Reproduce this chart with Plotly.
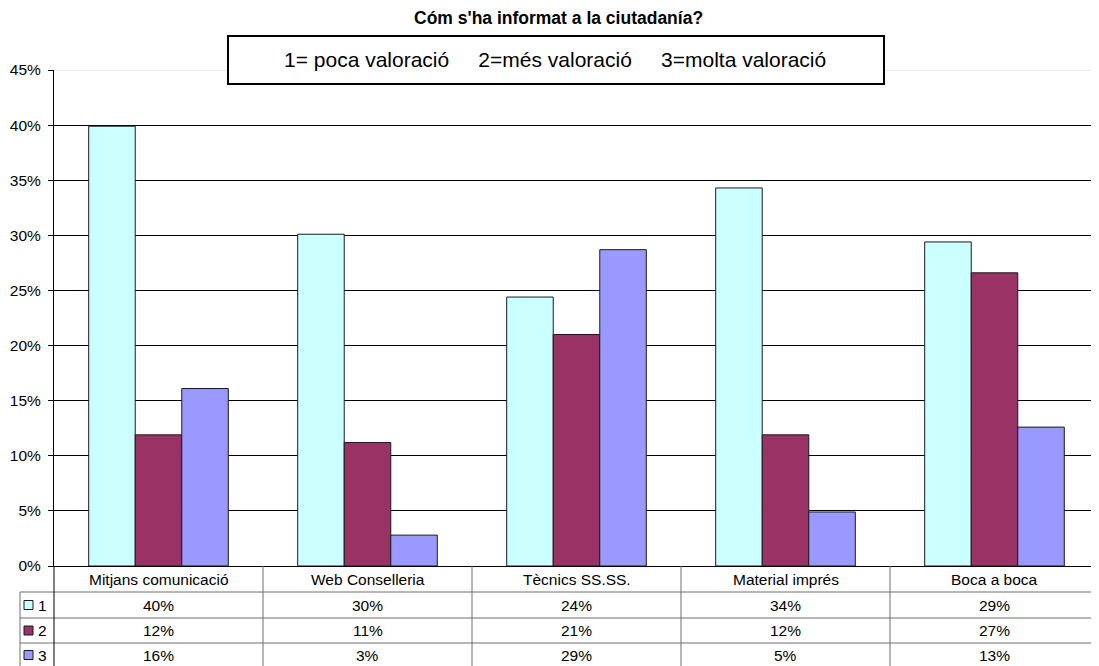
import plotly.graph_objects as go

categories = ["Mitjans comunicació", "Web Conselleria", "Tècnics SS.SS.", "Material imprés", "Boca a boca"]
series_names = ["1", "2", "3"]
values_1 = [39.9, 30.1, 24.4, 34.3, 29.4]
values_2 = [11.9, 11.2, 21.0, 11.9, 26.6]
values_3 = [16.1, 2.8, 28.7, 4.9, 12.6]
tick_vals = [0, 5, 10, 15, 20, 25, 30, 35, 40, 45]
tick_text = [f"{v}%" for v in tick_vals]
colors = ["#CCFFFF", "#993366", "#9999FF"]
title_text = "Cóm s'ha informat a la ciutadanía?"
NB = "\u00a0"
box_text = ("1= poca valoració" + NB * 5 + "2=més valoració" + NB * 5 + "3=molta valoració")

# page body has an 8px margin; the figure is sized to fill the rest of the window
OFF = 8
W, H = 1099 - OFF, 666 - OFF
L, R, T, B = 54 - OFF, 0, 70 - OFF, 100
PW, PH = W - L - R, H - T - B
FONT = "Liberation Sans, Arial, sans-serif"


def px(x):
    # window pixel -> paper x
    return (x - OFF - L) / PW


def py(y):
    # window pixel -> paper y
    return (H - B - (y - OFF)) / PH


all_series = [values_1, values_2, values_3]
fig = go.Figure()
for name, vals, col in zip(series_names, all_series, colors):
    fig.add_trace(go.Bar(x=categories, y=vals, name=name,
                         marker=dict(color=col, line=dict(color="#1a1a1a", width=1))))

shapes = []
annotations = []

# top light gridline
shapes.append(dict(type="line", xref="paper", yref="y", x0=0, x1=1, y0=45, y1=45,
                   line=dict(color="#d4d4d4", width=1)))

# title box
shapes.append(dict(type="rect", xref="paper", yref="paper", x0=px(228), x1=px(884), y0=py(84), y1=py(36),
                   line=dict(color="black", width=2), fillcolor="white", layer="above"))
annotations.append(dict(xref="paper", yref="paper", x=px(555), y=py(60), text=box_text, showarrow=False,
                        font=dict(size=21, color="black", family=FONT), xanchor="center", yanchor="middle"))
annotations.append(dict(xref="paper", yref="paper", x=px(558), y=py(18), text="<b>" + title_text + "</b>",
                        showarrow=False, font=dict(size=17.5, color="black", family=FONT),
                        xanchor="center", yanchor="middle"))

# data table
n = len(categories)
row_lines = [592, 618, 643, 667]
header_mid = (566 + 592) / 2
row_mids = [(row_lines[i] + row_lines[i + 1]) / 2 for i in range(3)]
grid_col = "#6e6e6e"
for yl in row_lines[:3]:
    shapes.append(dict(type="line", xref="paper", yref="paper", x0=px(20), x1=1, y0=py(yl), y1=py(yl),
                       line=dict(color=grid_col, width=1)))
shapes.append(dict(type="line", xref="paper", yref="paper", x0=px(20), x1=px(20), y0=py(592), y1=py(667),
                   line=dict(color=grid_col, width=1)))
shapes.append(dict(type="line", xref="paper", yref="paper", x0=0, x1=0, y0=0, y1=py(667),
                   line=dict(color="black", width=1)))
for k in range(1, n + 1):
    xk = k / n if k < n else 1 - 0.5 / PW
    shapes.append(dict(type="line", xref="paper", yref="paper", x0=xk, x1=xk, y0=0, y1=py(667),
                       line=dict(color=grid_col, width=1)))
for i, c in enumerate(categories):
    annotations.append(dict(xref="paper", yref="paper", x=(i + 0.5) / n, y=py(header_mid), text=c,
                            showarrow=False, font=dict(size=15.5, color="black", family=FONT),
                            xanchor="center", yanchor="middle"))
for r, (name, vals, col) in enumerate(zip(series_names, all_series, colors)):
    ym = row_mids[r]
    shapes.append(dict(type="rect", xref="paper", yref="paper", x0=px(24), x1=px(33), y0=py(ym + 4.5),
                       y1=py(ym - 4.5), fillcolor=col, line=dict(color="#1a1a1a", width=1)))
    annotations.append(dict(xref="paper", yref="paper", x=px(36), y=py(ym), text=name, showarrow=False,
                            font=dict(size=15.5, color="black", family=FONT), xanchor="left", yanchor="middle"))
    for i, v in enumerate(vals):
        annotations.append(dict(xref="paper", yref="paper", x=(i + 0.5) / n, y=py(ym), text=f"{round(v)}%",
                                showarrow=False, font=dict(size=15.5, color="black", family=FONT),
                                xanchor="center", yanchor="middle"))

fig.update_layout(
    width=W, height=H,
    margin=dict(l=L, r=R, t=T, b=B, pad=0),
    paper_bgcolor="white", plot_bgcolor="white",
    barmode="group", bargap=0.332, bargroupgap=0,
    showlegend=False,
    font=dict(family=FONT, size=15.5, color="black"),
    xaxis=dict(showticklabels=False, showgrid=False, ticks="", showline=True, linecolor="black",
               linewidth=1, zeroline=False, range=[-0.5, n - 0.5]),
    yaxis=dict(range=[0, 45], tickvals=tick_vals, ticktext=tick_text, showgrid=True, gridcolor="black",
               gridwidth=1, showline=True, linecolor="black", linewidth=1, ticks="outside", ticklen=5,
               tickcolor="black", zeroline=False, ticklabelstandoff=4,
               tickfont=dict(size=15.5, family=FONT, color="black")),
    shapes=shapes,
    annotations=annotations,
)

fig.write_html("out.html")
